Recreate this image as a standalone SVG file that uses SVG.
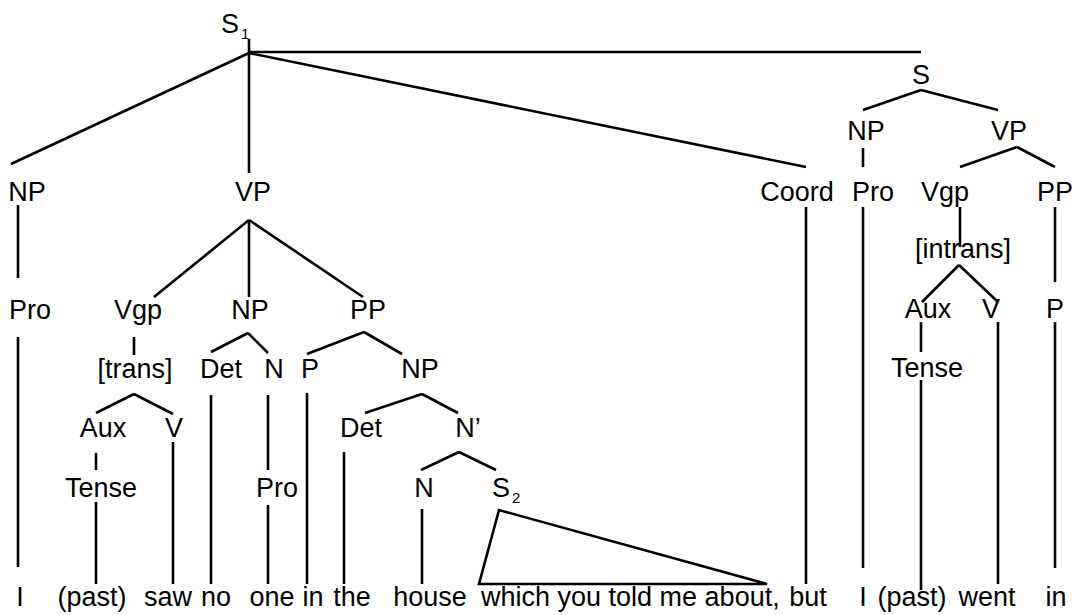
<svg xmlns="http://www.w3.org/2000/svg" width="1072" height="615" viewBox="0 0 1072 615">
<style>
text{font-family:"Liberation Sans",Arial,sans-serif;font-size:27px;fill:#000;text-anchor:middle}
.sub{font-size:15px}
#edges line,#edges polygon{stroke:#000;stroke-width:2.6;fill:none;stroke-linecap:butt}
</style>
<rect width="1072" height="615" fill="#fff"/>
<g id="edges">
<line x1="249" y1="39" x2="249" y2="173"/>
<line x1="249" y1="53" x2="11" y2="164"/>
<line x1="249" y1="53" x2="806" y2="167"/>
<line x1="249" y1="52" x2="921" y2="52"/>
<line x1="18" y1="205" x2="18" y2="278"/>
<line x1="249" y1="220" x2="154" y2="297"/>
<line x1="249" y1="220" x2="249" y2="297"/>
<line x1="249" y1="220" x2="363" y2="297"/>
<line x1="18" y1="337" x2="18" y2="567"/>
<line x1="134" y1="337" x2="134" y2="355"/>
<line x1="248" y1="333" x2="211" y2="352"/>
<line x1="248" y1="333" x2="268" y2="353"/>
<line x1="364" y1="332" x2="307" y2="354"/>
<line x1="364" y1="332" x2="402" y2="354"/>
<line x1="134" y1="394" x2="96" y2="413"/>
<line x1="134" y1="394" x2="173" y2="414"/>
<line x1="211" y1="395" x2="211" y2="584"/>
<line x1="268" y1="395" x2="268" y2="470"/>
<line x1="307" y1="393" x2="307" y2="584"/>
<line x1="422" y1="394" x2="365" y2="413"/>
<line x1="422" y1="394" x2="458" y2="413"/>
<line x1="96" y1="453" x2="96" y2="470"/>
<line x1="173" y1="442" x2="173" y2="584"/>
<line x1="344" y1="452" x2="344" y2="584"/>
<line x1="459" y1="452" x2="421" y2="470"/>
<line x1="459" y1="452" x2="496" y2="470"/>
<line x1="96" y1="502" x2="96" y2="584"/>
<line x1="268" y1="505" x2="268" y2="584"/>
<line x1="422" y1="509" x2="422" y2="584"/>
<polygon points="499,510 479,584 767,584" stroke-linejoin="miter"/>
<line x1="806" y1="207" x2="806" y2="584"/>
<line x1="921" y1="90" x2="863" y2="110"/>
<line x1="921" y1="90" x2="998" y2="110"/>
<line x1="863" y1="148" x2="863" y2="167"/>
<line x1="1017" y1="147" x2="960" y2="167"/>
<line x1="1017" y1="147" x2="1055" y2="167"/>
<line x1="863" y1="207" x2="863" y2="568"/>
<line x1="960" y1="207" x2="960" y2="247"/>
<line x1="1055" y1="207" x2="1055" y2="282"/>
<line x1="959" y1="265" x2="922" y2="302"/>
<line x1="959" y1="265" x2="998" y2="302"/>
<line x1="921" y1="322" x2="921" y2="352"/>
<line x1="998" y1="322" x2="998" y2="584"/>
<line x1="1055" y1="322" x2="1055" y2="568"/>
<line x1="921" y1="380" x2="921" y2="590"/>
</g>
<g id="S1"><text x="221" y="33" style="text-anchor:start">S<tspan class="sub" dx="2" dy="6">1</tspan></text></g>
<g id="NP1"><text x="27" y="201">NP</text></g>
<g id="VP1"><text x="253" y="201">VP</text></g>
<g id="Coord"><text x="797" y="201">Coord</text></g>
<g id="S"><text x="921" y="84">S</text></g>
<g id="NP_r"><text x="866" y="140">NP</text></g>
<g id="VP_r"><text x="1009" y="140">VP</text></g>
<g id="Pro_r"><text x="873" y="201">Pro</text></g>
<g id="Vgp_r"><text x="945" y="201">Vgp</text></g>
<g id="PP_r"><text x="1055" y="201">PP</text></g>
<g id="intrans"><text x="963" y="258">[intrans]</text></g>
<g id="Aux_r"><text x="928" y="318">Aux</text></g>
<g id="V_r"><text x="991" y="318">V</text></g>
<g id="P_r"><text x="1055" y="318">P</text></g>
<g id="Tense_r"><text x="927" y="377">Tense</text></g>
<g id="Pro1"><text x="30" y="319">Pro</text></g>
<g id="Vgp1"><text x="138" y="319">Vgp</text></g>
<g id="NP2"><text x="250" y="319">NP</text></g>
<g id="PP1"><text x="368" y="319">PP</text></g>
<g id="trans"><text x="135" y="378">[trans]</text></g>
<g id="Det1"><text x="221" y="378">Det</text></g>
<g id="N1"><text x="274" y="378">N</text></g>
<g id="P1"><text x="310" y="378">P</text></g>
<g id="NP3"><text x="420" y="378">NP</text></g>
<g id="Aux1"><text x="103" y="437">Aux</text></g>
<g id="V1"><text x="174" y="437">V</text></g>
<g id="Det2"><text x="361" y="437">Det</text></g>
<g id="Nbar"><text x="468" y="437">N’</text></g>
<g id="Tense1"><text x="101" y="497">Tense</text></g>
<g id="Pro2"><text x="277" y="497">Pro</text></g>
<g id="N2"><text x="424" y="497">N</text></g>
<g id="S2"><text x="492" y="497" style="text-anchor:start">S<tspan class="sub" dx="2" dy="6">2</tspan></text></g>
<g id="words">
<text x="20" y="606">I</text>
<text x="92" y="606">(past)</text>
<text x="168" y="606">saw</text>
<text x="216" y="606">no</text>
<text x="272" y="606">one</text>
<text x="313" y="606">in</text>
<text x="352" y="606">the</text>
<text x="430" y="606">house</text>
<text x="481" y="606" style="text-anchor:start">which you told me about,</text>
<text x="808" y="606">but</text>
<text x="863" y="606">I</text>
<text x="912" y="606">(past)</text>
<text x="987" y="606">went</text>
<text x="1056" y="606">in</text>
</g>
</svg>
